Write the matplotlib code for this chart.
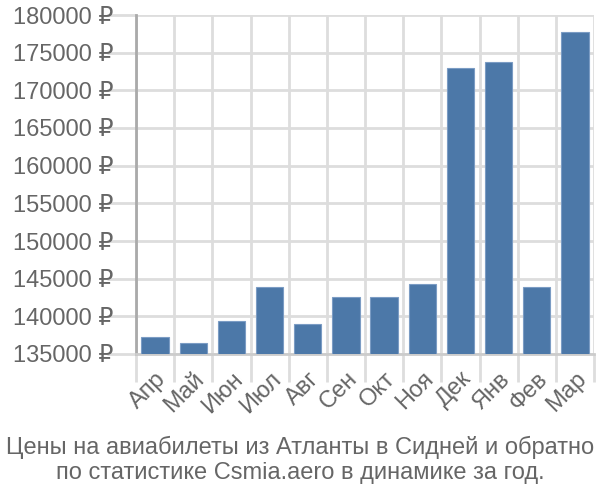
import matplotlib.pyplot as plt
import numpy as np

plt.rcParams['font.family'] = ['Liberation Sans', 'DejaVu Sans']

months = ['Апр', 'Май', 'Июн', 'Июл', 'Авг', 'Сен', 'Окт', 'Ноя', 'Дек', 'Янв', 'Фев', 'Мар']
prices = [137200, 136500, 139400, 143900, 139000, 142600, 142600, 144300, 173000, 173800, 143900, 177800]
y_ticks = list(range(135000, 180001, 5000))
title = 'Цены на авиабилеты из Атланты в Сидней и обратно\nпо статистике Csmia.aero в динамике за год.'

grid_col = '#dddddd'
text_col = '#666666'

fig = plt.figure(figsize=(6, 5), dpi=100)
ax = fig.add_axes([136 / 600, 1 - 354 / 500, (594 - 136) / 600, (354 - 15) / 500])

x = np.arange(len(months))
ax.bar(x, prices, width=0.72, color='#4c78a8', edgecolor='#7b9cc4', linewidth=0.8, zorder=3)

ax.set_xlim(-0.5, len(months) - 0.5)
ax.set_ylim(135000, 180000)

ax.set_yticks(y_ticks)
ax.set_yticklabels([f'{v} ₽' for v in y_ticks])
ax.set_xticks(x)
ax.set_xticklabels(months, rotation=45, ha='right', rotation_mode='anchor')
ax.set_xticks(np.arange(-0.5, len(months)), minor=True)

ax.tick_params(axis='x', which='major', length=0, pad=10, labelsize=17, labelcolor=text_col)
ax.tick_params(axis='x', which='minor', length=20, width=2, color=grid_col)
ax.tick_params(axis='y', length=21, width=2, color=grid_col, pad=-5, labelsize=17, labelcolor=text_col)

ax.grid(axis='y', color=grid_col, linewidth=2, zorder=0)
ax.grid(axis='x', which='minor', color=grid_col, linewidth=2, zorder=0)

for side in ['top', 'right']:
    ax.spines[side].set_visible(False)
ax.spines['left'].set_color('#aaaaaa')
ax.spines['left'].set_linewidth(2)
ax.spines['bottom'].set_color('#cccccc')
ax.spines['bottom'].set_linewidth(2)

fig.text(0.5, 1 - 460 / 500, title, ha='center', va='center', fontsize=17,
         color=text_col, linespacing=1.2)

fig.savefig('out.png', dpi=100)
